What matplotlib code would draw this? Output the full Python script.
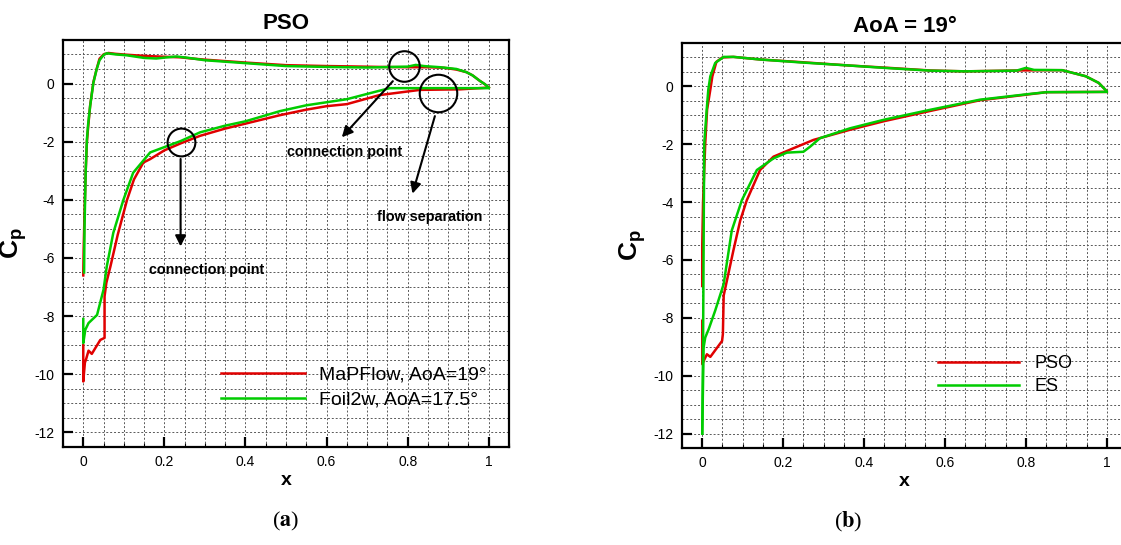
import matplotlib
matplotlib.use("Agg")
import matplotlib.pyplot as plt
from matplotlib.ticker import MultipleLocator, FormatStrFormatter

plt.rcParams['font.family'] = ['Liberation Sans', 'DejaVu Sans']
plt.rcParams['mathtext.fontset'] = 'custom'
plt.rcParams['mathtext.rm'] = 'Liberation Sans'
plt.rcParams['mathtext.bf'] = 'Liberation Sans:bold'
plt.rcParams['mathtext.it'] = 'Liberation Sans:italic'

RED = '#e00000'
GREEN = '#00cc00'

# ---- panel (a): MaPFlow vs Foil2w ----
map_top_x = [1.0, 0.99, 0.978, 0.96, 0.945, 0.92, 0.89, 0.85, 0.8, 0.73, 0.65, 0.6, 0.5, 0.4, 0.3, 0.26, 0.24,
             0.2, 0.15, 0.107, 0.08, 0.062, 0.05, 0.04, 0.033, 0.025, 0.017, 0.012, 0.009, 0.006, 0.003, 0.001, 0.0]
map_top_cp = [-0.14, -0.02, 0.09, 0.28, 0.39, 0.48, 0.54, 0.56, 0.56, 0.57, 0.59, 0.6, 0.63, 0.72, 0.82, 0.87, 0.9,
              0.92, 0.95, 0.99, 1.02, 1.05, 1.0, 0.85, 0.5, 0.05, -0.75, -1.5, -2.0, -3.0, -4.5, -5.7, -6.6]
map_bot_x = [0.0, 0.0, 0.004, 0.0066, 0.013, 0.021, 0.042, 0.0525, 0.0525, 0.057, 0.067, 0.085, 0.108, 0.125,
             0.148, 0.165, 0.2, 0.24, 0.288, 0.35, 0.4, 0.485, 0.55, 0.6, 0.65, 0.73, 0.83, 0.93, 1.0]
map_bot_cp = [-9.0, -10.25, -9.6, -9.5, -9.19, -9.3, -8.82, -8.75, -7.32, -6.85, -6.29, -5.2, -4.0, -3.3,
              -2.72, -2.6, -2.3, -2.06, -1.8, -1.55, -1.38, -1.09, -0.9, -0.78, -0.71, -0.4, -0.22, -0.2, -0.14]

foil_top_x = [1.0, 0.99, 0.978, 0.96, 0.945, 0.92, 0.88, 0.84, 0.82, 0.8, 0.7, 0.6, 0.5, 0.4, 0.3, 0.26, 0.23,
              0.2, 0.18, 0.15, 0.107, 0.08, 0.058, 0.05, 0.04, 0.033, 0.025, 0.017, 0.012, 0.009, 0.006, 0.003, 0.002]
foil_top_cp = [-0.14, -0.02, 0.09, 0.28, 0.39, 0.5, 0.56, 0.6, 0.64, 0.58, 0.55, 0.57, 0.6, 0.7, 0.8, 0.88, 0.93,
               0.89, 0.86, 0.88, 0.97, 1.0, 1.04, 0.98, 0.8, 0.49, 0.03, -0.77, -1.4, -1.92, -3.0, -5.0, -6.5]
foil_bot_x = [0.0, 0.0, 0.005, 0.013, 0.034, 0.05, 0.058, 0.074, 0.099, 0.123, 0.165, 0.24, 0.288, 0.35, 0.4,
              0.485, 0.55, 0.65, 0.73, 0.756, 0.85, 1.0]
foil_bot_cp = [-8.1, -8.93, -8.47, -8.24, -7.96, -7.09, -6.29, -5.14, -4.0, -3.07, -2.37, -1.98, -1.68, -1.45, -1.3,
               -0.95, -0.75, -0.54, -0.25, -0.16, -0.16, -0.16]

# ---- panel (b): PSO vs ES at AoA = 19 ----
pso_top_x = [0.998, 0.98, 0.948, 0.89, 0.85, 0.777, 0.65, 0.563, 0.45, 0.365, 0.242, 0.143, 0.077, 0.05,
             0.035, 0.025, 0.02, 0.012, 0.0074, 0.002, 0.0, 0.0]
pso_top_cp = [-0.14, 0.12, 0.35, 0.56, 0.56, 0.55, 0.52, 0.55, 0.65, 0.72, 0.84, 0.93, 1.02, 1.0,
              0.85, 0.35, -0.11, -0.8, -1.97, -4.0, -5.5, -6.9]
pso_bot_x = [0.0, 0.0, 0.0074, 0.0115, 0.02, 0.049, 0.051, 0.053, 0.061, 0.077, 0.094, 0.11, 0.143, 0.176,
             0.225, 0.275, 0.365, 0.45, 0.563, 0.686, 0.81, 0.851, 1.0]
pso_bot_cp = [-8.1, -9.6, -9.38, -9.26, -9.35, -8.8, -8.56, -7.23, -6.71, -5.67, -4.63, -3.94, -2.89, -2.43,
              -2.14, -1.85, -1.5, -1.2, -0.85, -0.48, -0.27, -0.2, -0.19]

es_top_x = [0.998, 0.98, 0.948, 0.89, 0.82, 0.8, 0.777, 0.65, 0.563, 0.45, 0.365, 0.242, 0.143, 0.077, 0.053,
            0.032, 0.02, 0.015, 0.011, 0.005, 0.004, 0.002, 0.0]
es_top_cp = [-0.14, 0.12, 0.35, 0.56, 0.57, 0.64, 0.545, 0.52, 0.545, 0.64, 0.72, 0.83, 0.93, 1.02, 1.02,
             0.81, 0.35, -0.11, -0.81, -1.96, -4.0, -9.0, -12.0]
es_bot_x = [0.0, 0.0033, 0.0074, 0.016, 0.032, 0.053, 0.073, 0.098, 0.135, 0.176, 0.209, 0.25, 0.267, 0.291,
            0.365, 0.45, 0.563, 0.686, 0.81, 0.851, 1.0]
es_bot_cp = [-12.0, -9.03, -8.68, -8.39, -7.75, -6.83, -4.98, -3.93, -2.89, -2.49, -2.29, -2.26, -2.08, -1.79,
             -1.45, -1.15, -0.81, -0.46, -0.26, -0.2, -0.19]

# annotation marks for panel (a): circle centres, sizes, arrows, labels
circle_x = [0.24, 0.79, 0.875]
circle_y = [-2.0, 0.6, -0.33]
circle_size = [20, 22, 27]
arrow_start = [(0.24, -2.5), (0.768, 0.15), (0.869, -1.03)]
arrow_end = [(0.24, -5.7), (0.633, -1.92), (0.81, -3.88)]
label_pos = [(0.303, -6.4), (0.644, -2.37), (0.855, -4.6)]
label_text = ['connection point', 'connection point', 'flow separation']


def style_axes(ax, title):
    ax.set_xlim(-0.05, 1.05)
    ax.set_ylim(-12.5, 1.5)
    ax.xaxis.set_major_locator(MultipleLocator(0.2))
    ax.xaxis.set_minor_locator(MultipleLocator(0.05))
    ax.yaxis.set_major_locator(MultipleLocator(2))
    ax.yaxis.set_minor_locator(MultipleLocator(0.5))
    ax.xaxis.set_major_formatter(FormatStrFormatter('%g'))
    ax.yaxis.set_major_formatter(FormatStrFormatter('%g'))
    ax.grid(which='both', color='0.35', linestyle=(0, (2, 2)), linewidth=0.7)
    ax.set_axisbelow(True)
    ax.tick_params(which='major', direction='in', length=7, width=1.6, labelsize=10, pad=6)
    ax.tick_params(axis='x', which='minor', direction='in', length=3, width=0.8)
    ax.tick_params(axis='y', which='minor', length=0)
    for s in ax.spines.values():
        s.set_linewidth(1.6)
    ax.set_title(title, fontsize=16, fontweight='bold', pad=8)
    ax.set_xlabel('x', fontsize=14, fontweight='bold', labelpad=2)
    ax.set_ylabel(r'$\mathbf{C_p}$', fontsize=19, labelpad=4)


fig = plt.figure(figsize=(11.21, 5.45), dpi=100)
ax1 = fig.add_axes([0.0562, 0.180, 0.3979, 0.7468])
ax2 = fig.add_axes([0.6084, 0.178, 0.3970, 0.7431])

ax1.plot(map_top_x, map_top_cp, color=RED, lw=1.8, label='MaPFlow, AoA=19°')
ax1.plot(map_bot_x, map_bot_cp, color=RED, lw=1.8)
ax1.plot(foil_top_x, foil_top_cp, color=GREEN, lw=1.8, label='Foil2w, AoA=17.5°')
ax1.plot(foil_bot_x, foil_bot_cp, color=GREEN, lw=1.8)

for cx, cy, cs in zip(circle_x, circle_y, circle_size):
    ax1.plot(cx, cy, 'o', ms=cs, mfc='none', mec='black', mew=1.5)
for st, en, lp, txt in zip(arrow_start, arrow_end, label_pos, label_text):
    ax1.annotate('', xy=en, xytext=st,
                 arrowprops=dict(arrowstyle='-|>', color='black', lw=1.5, mutation_scale=16))
    ax1.text(lp[0], lp[1], txt, fontsize=10.4, fontweight='bold', ha='center', va='center')

ax1.legend(loc='center left', bbox_to_anchor=(0.354, 0.147), frameon=False, fontsize=14,
           handlelength=4.3, handletextpad=0.72, labelspacing=0.38, borderpad=0, borderaxespad=0)
style_axes(ax1, 'PSO')

ax2.plot(pso_top_x, pso_top_cp, color=RED, lw=1.8, label='PSO')
ax2.plot(pso_bot_x, pso_bot_cp, color=RED, lw=1.8)
ax2.plot(es_top_x, es_top_cp, color=GREEN, lw=1.8, label='ES')
ax2.plot(es_bot_x, es_bot_cp, color=GREEN, lw=1.8)
ax2.legend(loc='center left', bbox_to_anchor=(0.575, 0.18), frameon=False, fontsize=13,
           handlelength=4.5, handletextpad=0.85, labelspacing=0.32, borderpad=0, borderaxespad=0)
style_axes(ax2, 'AoA = 19°')

fig.text(0.2551, 0.043, r'($\mathbf{a}$)', fontsize=16, family='Liberation Serif', math_fontfamily='stix',
         ha='center', va='center')
fig.text(0.7565, 0.043, r'($\mathbf{b}$)', fontsize=16, family='Liberation Serif', math_fontfamily='stix',
         ha='center', va='center')

fig.savefig('out.png', dpi=100)
